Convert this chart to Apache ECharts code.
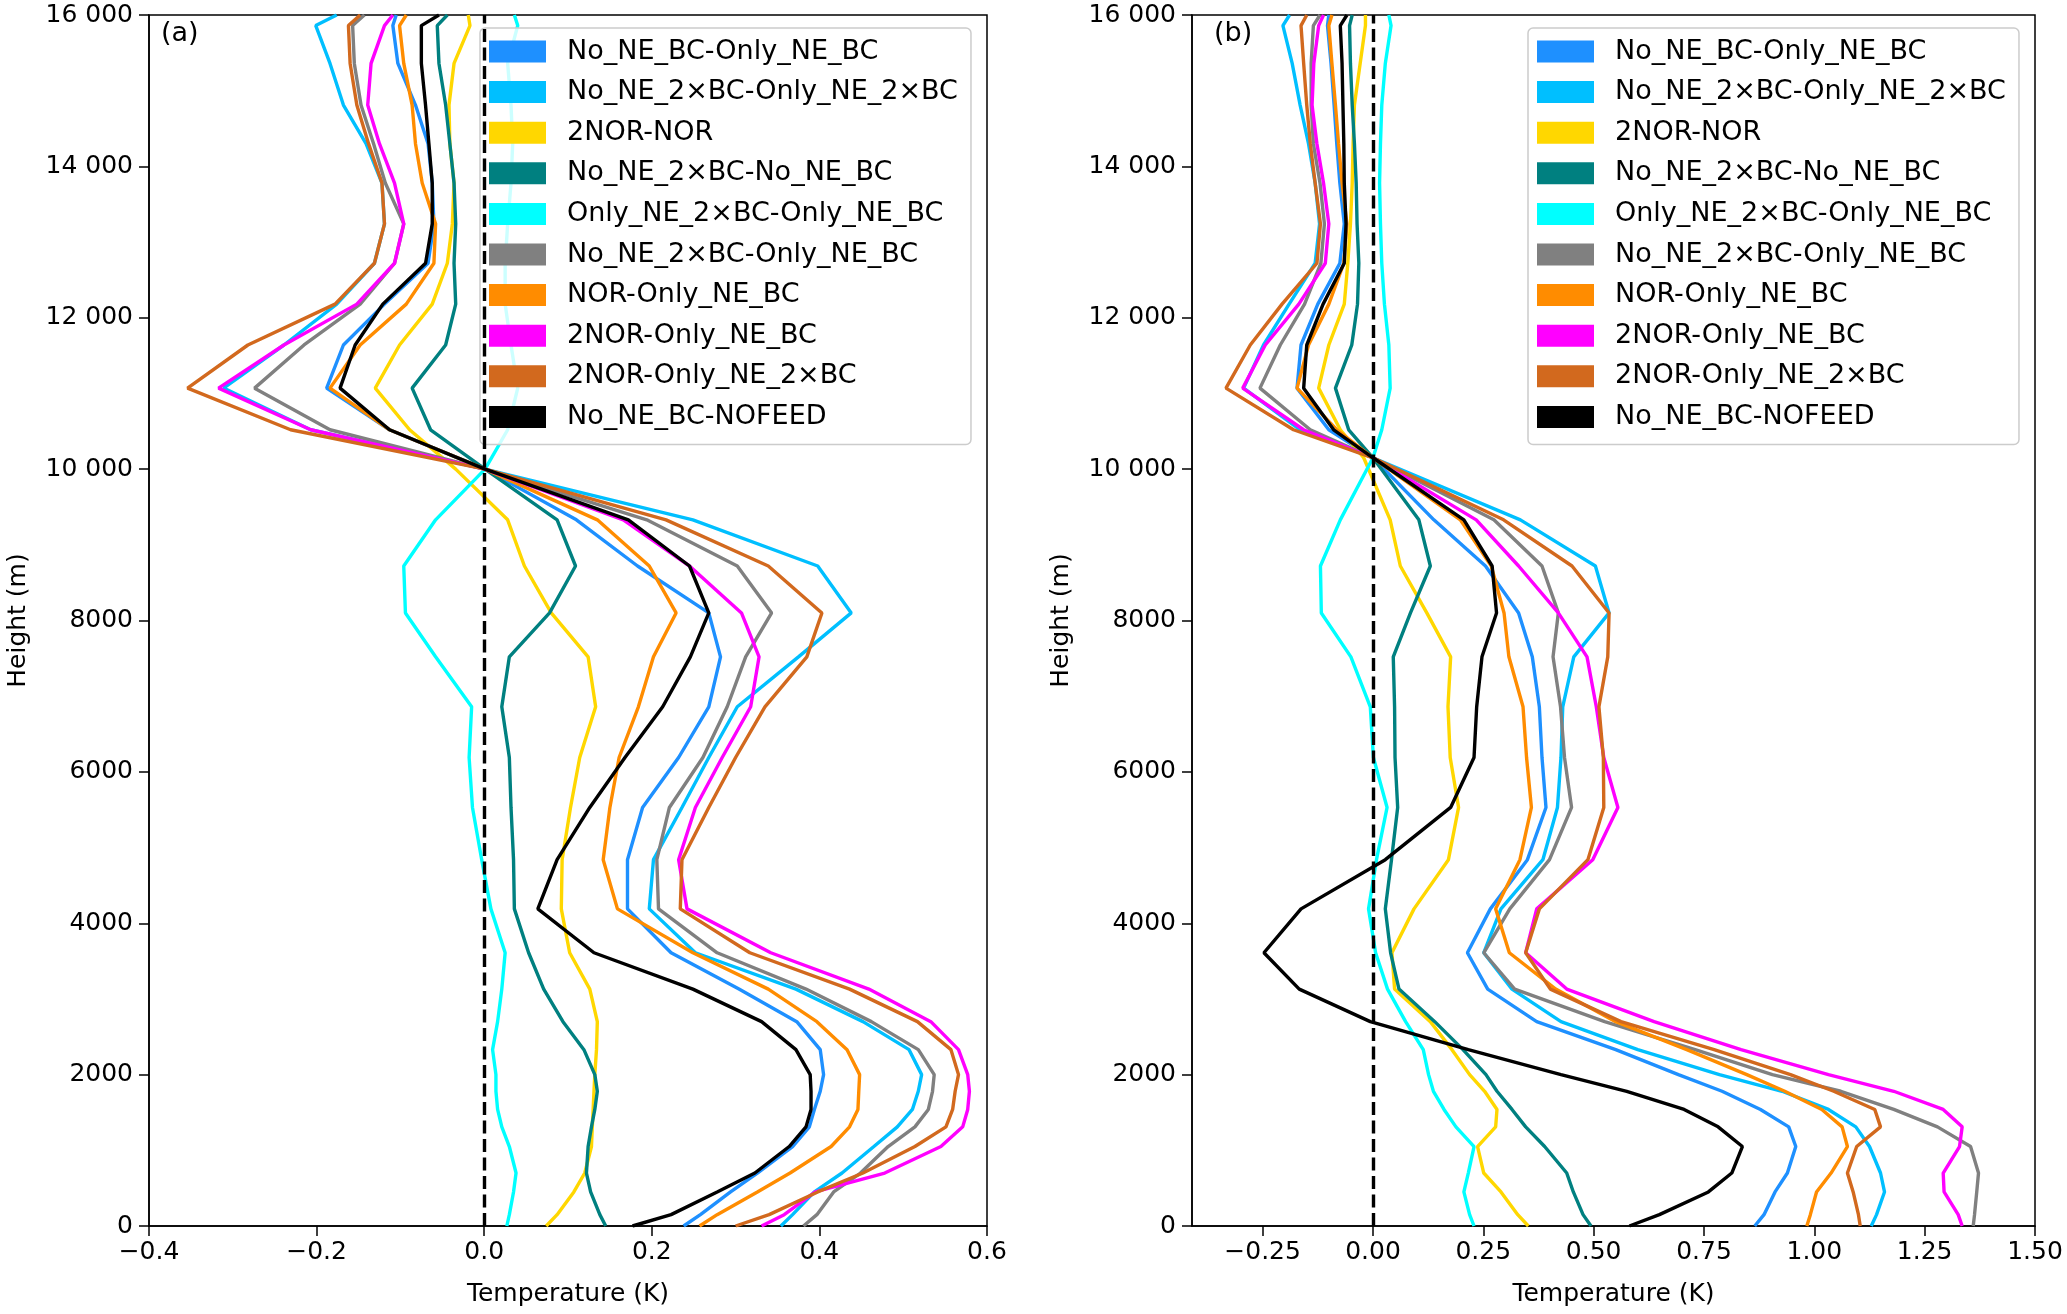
<!DOCTYPE html>
<html>
<head>
<meta charset="utf-8">
<script src="https://cdn.jsdelivr.net/npm/echarts@6/dist/echarts.min.js"></script>
<style>
html,body{margin:0;padding:0;background:#fff;}
#chart{width:2067px;height:1314px;}
</style>
</head>
<body>
<div id="chart"></div>
<script>
// ---------- DATA ----------
const heightsA = [0,150,450,700,1050,1310,1540,1780,2000,2330,2700,3130,3610,4190,4840,5530,6190,6860,7520,8100,8720,9330,10000,10520,11070,11640,12180,12720,13240,13780,14300,14810,15360,15860,16000];
const heightsB = [0,150,450,700,1050,1310,1540,1780,2000,2330,2700,3130,3610,4190,4840,5530,6190,6860,7520,8100,8720,9330,10150,10520,11070,11640,12180,12720,13240,13780,14300,14810,15360,15860,16000];

const seriesNames = ['No_NE_BC-Only_NE_BC','No_NE_2×BC-Only_NE_2×BC','2NOR-NOR','No_NE_2×BC-No_NE_BC','Only_NE_2×BC-Only_NE_BC','No_NE_2×BC-Only_NE_BC','NOR-Only_NE_BC','2NOR-Only_NE_BC','2NOR-Only_NE_2×BC','No_NE_BC-NOFEED'];

// panel (a)
const a_NoNEBC_OnlyNEBC = [0.238,0.258,0.294,0.326,0.368,0.388,0.394,0.401,0.405,0.401,0.373,0.304,0.223,0.171,0.171,0.189,0.232,0.268,0.282,0.268,0.183,0.110,0.001,-0.113,-0.188,-0.168,-0.119,-0.067,-0.060,-0.062,-0.067,-0.082,-0.103,-0.109,-0.105];
const a_NoNE2BC_OnlyNE2BC = [0.354,0.368,0.394,0.427,0.465,0.493,0.511,0.518,0.522,0.507,0.452,0.372,0.252,0.197,0.202,0.236,0.268,0.302,0.375,0.438,0.398,0.249,0.001,-0.207,-0.311,-0.239,-0.176,-0.131,-0.119,-0.122,-0.141,-0.168,-0.184,-0.201,-0.176];
const a_2NOR_NOR = [0.074,0.087,0.107,0.120,0.128,0.129,0.130,0.131,0.132,0.134,0.135,0.126,0.102,0.092,0.093,0.103,0.114,0.133,0.124,0.080,0.048,0.028,-0.034,-0.089,-0.130,-0.101,-0.062,-0.044,-0.038,-0.036,-0.041,-0.042,-0.036,-0.017,-0.019];
const a_NoNE2BC_NoNEBC = [0.145,0.138,0.127,0.122,0.124,0.128,0.132,0.135,0.132,0.119,0.094,0.071,0.053,0.036,0.035,0.032,0.030,0.021,0.030,0.078,0.109,0.087,0.001,-0.064,-0.086,-0.046,-0.034,-0.036,-0.034,-0.036,-0.041,-0.046,-0.054,-0.056,-0.044];
const a_OnlyNE2BC_OnlyNEBC = [0.027,0.030,0.035,0.038,0.030,0.021,0.016,0.014,0.014,0.010,0.016,0.021,0.025,0.008,-0.003,-0.014,-0.018,-0.015,-0.058,-0.094,-0.096,-0.058,0.001,0.028,0.040,0.032,0.025,0.025,0.028,0.032,0.034,0.032,0.028,0.040,0.036];
const a_NoNE2BC_OnlyNEBC = [0.381,0.397,0.417,0.449,0.482,0.514,0.530,0.535,0.537,0.518,0.462,0.384,0.278,0.208,0.206,0.221,0.261,0.290,0.312,0.343,0.302,0.194,0.001,-0.184,-0.274,-0.215,-0.148,-0.107,-0.096,-0.118,-0.132,-0.147,-0.155,-0.157,-0.143];
const a_NOR_OnlyNEBC = [0.257,0.278,0.326,0.365,0.414,0.436,0.446,0.447,0.448,0.433,0.397,0.339,0.249,0.159,0.142,0.150,0.161,0.184,0.202,0.229,0.197,0.135,0.001,-0.113,-0.184,-0.148,-0.093,-0.060,-0.058,-0.074,-0.082,-0.086,-0.096,-0.101,-0.093];
const a_2NOR_OnlyNEBC = [0.331,0.358,0.395,0.478,0.545,0.571,0.577,0.579,0.577,0.566,0.533,0.459,0.342,0.242,0.232,0.252,0.284,0.318,0.328,0.307,0.245,0.166,0.001,-0.207,-0.317,-0.239,-0.152,-0.107,-0.096,-0.107,-0.125,-0.139,-0.135,-0.119,-0.109];
const a_2NOR_OnlyNE2BC = [0.300,0.340,0.398,0.452,0.514,0.551,0.559,0.562,0.566,0.557,0.517,0.436,0.317,0.234,0.236,0.268,0.300,0.335,0.385,0.403,0.339,0.217,0.001,-0.231,-0.354,-0.282,-0.178,-0.131,-0.119,-0.122,-0.138,-0.152,-0.160,-0.162,-0.148];
const a_NoNEBC_NOFEED = [0.177,0.223,0.278,0.323,0.364,0.384,0.390,0.390,0.389,0.372,0.331,0.249,0.131,0.064,0.087,0.126,0.168,0.213,0.246,0.268,0.245,0.172,0.001,-0.113,-0.172,-0.154,-0.121,-0.070,-0.062,-0.062,-0.066,-0.070,-0.075,-0.075,-0.054];

// panel (b)
const b_NoNEBC_OnlyNEBC = [0.865,0.886,0.911,0.939,0.958,0.942,0.878,0.791,0.692,0.550,0.371,0.260,0.214,0.266,0.350,0.392,0.383,0.377,0.361,0.330,0.255,0.138,0.000,-0.100,-0.172,-0.163,-0.125,-0.075,-0.065,-0.075,-0.082,-0.088,-0.095,-0.103,-0.100];
const b_NoNE2BC_OnlyNE2BC = [1.129,1.141,1.159,1.150,1.125,1.094,1.032,0.927,0.785,0.600,0.426,0.315,0.251,0.290,0.385,0.418,0.426,0.430,0.455,0.535,0.504,0.334,0.000,-0.165,-0.293,-0.248,-0.190,-0.131,-0.121,-0.131,-0.146,-0.165,-0.183,-0.204,-0.189];
const b_2NOR_NOR = [0.352,0.328,0.290,0.251,0.237,0.278,0.281,0.253,0.219,0.179,0.130,0.049,0.043,0.093,0.171,0.194,0.175,0.170,0.176,0.122,0.062,0.039,-0.021,-0.074,-0.123,-0.100,-0.065,-0.057,-0.051,-0.047,-0.045,-0.042,-0.029,-0.017,-0.017];
const b_NoNE2BC_NoNEBC = [0.494,0.476,0.454,0.439,0.389,0.346,0.315,0.281,0.256,0.204,0.140,0.059,0.040,0.028,0.042,0.056,0.050,0.049,0.046,0.085,0.130,0.104,0.000,-0.055,-0.085,-0.048,-0.035,-0.032,-0.036,-0.038,-0.042,-0.047,-0.051,-0.053,-0.047];
const b_OnlyNE2BC_OnlyNEBC = [0.229,0.219,0.206,0.216,0.229,0.188,0.161,0.137,0.126,0.114,0.074,0.033,0.006,-0.010,0.008,0.032,0.001,-0.006,-0.050,-0.117,-0.119,-0.074,0.000,0.020,0.039,0.036,0.026,0.020,0.017,0.015,0.017,0.020,0.028,0.041,0.036];
const b_NoNE2BC_OnlyNEBC = [1.360,1.363,1.368,1.372,1.354,1.279,1.180,1.060,0.905,0.730,0.525,0.321,0.251,0.310,0.400,0.450,0.434,0.425,0.408,0.420,0.383,0.274,0.000,-0.142,-0.256,-0.210,-0.155,-0.118,-0.110,-0.120,-0.135,-0.140,-0.140,-0.135,-0.120];
const b_NOR_OnlyNEBC = [0.983,0.991,1.005,1.038,1.075,1.063,1.017,0.933,0.847,0.711,0.550,0.414,0.309,0.278,0.333,0.359,0.348,0.340,0.308,0.297,0.268,0.198,0.000,-0.082,-0.172,-0.146,-0.100,-0.066,-0.059,-0.070,-0.078,-0.085,-0.093,-0.100,-0.093];
const b_2NOR_OnlyNEBC = [1.335,1.326,1.294,1.292,1.329,1.335,1.292,1.180,1.032,0.834,0.637,0.439,0.346,0.371,0.498,0.555,0.523,0.506,0.485,0.420,0.330,0.234,0.000,-0.157,-0.295,-0.244,-0.168,-0.108,-0.100,-0.112,-0.127,-0.138,-0.134,-0.123,-0.112];
const b_2NOR_OnlyNE2BC = [1.104,1.100,1.088,1.075,1.096,1.150,1.137,1.044,0.946,0.773,0.562,0.402,0.346,0.377,0.487,0.523,0.522,0.512,0.532,0.535,0.451,0.296,0.000,-0.180,-0.333,-0.278,-0.206,-0.127,-0.119,-0.131,-0.142,-0.150,-0.157,-0.163,-0.150];
const b_NoNEBC_NOFEED = [0.581,0.649,0.760,0.813,0.837,0.782,0.705,0.575,0.426,0.216,-0.006,-0.167,-0.247,-0.163,0.028,0.176,0.229,0.235,0.247,0.280,0.270,0.206,0.000,-0.089,-0.157,-0.150,-0.113,-0.065,-0.061,-0.065,-0.066,-0.068,-0.070,-0.074,-0.059];

// tick labels
const yTickValues = [0,2000,4000,6000,8000,10000,12000,14000,16000];
const yTickLabels = ['0','2000','4000','6000','8000','10 000','12 000','14 000','16 000'];
const xTickValuesA = [-0.4,-0.2,0.0,0.2,0.4,0.6];
const xTickLabelsA = ['\u22120.4','\u22120.2','0.0','0.2','0.4','0.6'];
const xTickValuesB = [-0.25,0.0,0.25,0.5,0.75,1.0,1.25,1.5];
const xTickLabelsB = ['\u22120.25','0.00','0.25','0.50','0.75','1.00','1.25','1.50'];

// ---------- STYLE ----------
const colors = ['#1E90FF','#00BFFF','#FFD700','#008080','#00FFFF','#808080','#FF8C00','#FF00FF','#D2691E','#000000'];
const FONT = 'DejaVu Sans';

const panelA = [a_NoNEBC_OnlyNEBC,a_NoNE2BC_OnlyNE2BC,a_2NOR_NOR,a_NoNE2BC_NoNEBC,a_OnlyNE2BC_OnlyNEBC,a_NoNE2BC_OnlyNEBC,a_NOR_OnlyNEBC,a_2NOR_OnlyNEBC,a_2NOR_OnlyNE2BC,a_NoNEBC_NOFEED];
const panelB = [b_NoNEBC_OnlyNEBC,b_NoNE2BC_OnlyNE2BC,b_2NOR_NOR,b_NoNE2BC_NoNEBC,b_OnlyNE2BC_OnlyNEBC,b_NoNE2BC_OnlyNEBC,b_NOR_OnlyNEBC,b_2NOR_OnlyNEBC,b_2NOR_OnlyNE2BC,b_NoNEBC_NOFEED];

function lookup(vals, labels, v){
  for (let i=0;i<vals.length;i++){ if (Math.abs(vals[i]-v) < 1e-6) return labels[i]; }
  return '';
}

function makeSeries(panel, heights, idx){
  return panel.map((vals, i) => {
    const s = {
      name: seriesNames[i],
      type: 'line',
      xAxisIndex: idx, yAxisIndex: idx,
      data: vals.map((v, j) => [v, heights[j]]),
      showSymbol: false, symbol: 'none',
      color: colors[i],
      lineStyle: {color: colors[i], width: 3.4},
      clip: true,
      silent: true
    };
    if (i === panel.length - 1) {
      s.markLine = {
        silent: true, symbol: 'none', animation: false,
        label: {show: false},
        lineStyle: {color: '#000', width: 3.4, type: [13, 5.5]},
        data: [{xAxis: 0}]
      };
    }
    return s;
  });
}

const axisCommon = {
  axisLine: {show: true, onZero: false, lineStyle: {color: '#000', width: 1.5}},
  axisTick: {show: true, length: 10, lineStyle: {color: '#000', width: 1.5}},
  splitLine: {show: false},
  nameTextStyle: {fontFamily: FONT, fontSize: 25, color: '#000'}
};

function xAxis(idx, min, max, tv, tl){
  return Object.assign({}, axisCommon, {
    type: 'value', gridIndex: idx, min: min, max: max,
    name: 'Temperature (K)', nameLocation: 'middle', nameGap: 56,
    axisTick: Object.assign({}, axisCommon.axisTick, {customValues: tv}),
    axisLabel: {customValues: tv, fontFamily: FONT, fontSize: 25, color: '#000', margin: 14,
      formatter: v => lookup(tv, tl, v)}
  });
}
function yAxis(idx){
  return Object.assign({}, axisCommon, {
    type: 'value', gridIndex: idx, min: 0, max: 16000, interval: 2000,
    name: 'Height (m)', nameLocation: 'middle', nameGap: 118, nameRotate: 90,
    axisLabel: {fontFamily: FONT, fontSize: 25, color: '#000', margin: 16,
      formatter: v => lookup(yTickValues, yTickLabels, v)}
  });
}

function legend(left){
  return {
    left: left, top: 28, orient: 'vertical', icon: 'rect',
    itemWidth: 57, itemHeight: 22, itemGap: 13.6,
    padding: [10, 13, 14, 9],
    backgroundColor: 'rgba(255,255,255,0.8)',
    borderColor: '#cccccc', borderWidth: 1.5, borderRadius: 5,
    selectedMode: false,
    textStyle: {fontFamily: FONT, fontSize: 27, color: '#000', padding: [0,0,0,16]},
    data: seriesNames
  };
}

const chart = echarts.init(document.getElementById('chart'), null, {renderer: 'canvas'});
chart.setOption({
  animation: false,
  backgroundColor: '#fff',
  textStyle: {fontFamily: FONT},
  grid: [
    {left: 149, top: 15, width: 838, height: 1211, show: true, borderColor: '#000', borderWidth: 1.5, backgroundColor: 'transparent'},
    {left: 1192, top: 15, width: 843, height: 1211, show: true, borderColor: '#000', borderWidth: 1.5, backgroundColor: 'transparent'}
  ],
  xAxis: [xAxis(0, -0.4, 0.6, xTickValuesA, xTickLabelsA), xAxis(1, -0.41, 1.5, xTickValuesB, xTickLabelsB)],
  yAxis: [yAxis(0), yAxis(1)],
  legend: [legend(480), legend(1528)],
  graphic: [
    {type: 'text', left: 161, top: 20, style: {text: '(a)', fontFamily: FONT, fontSize: 27, fill: '#000'}},
    {type: 'text', left: 1214, top: 20, style: {text: '(b)', fontFamily: FONT, fontSize: 27, fill: '#000'}}
  ],
  series: makeSeries(panelA, heightsA, 0).concat(makeSeries(panelB, heightsB, 1))
});
</script>
</body>
</html>
